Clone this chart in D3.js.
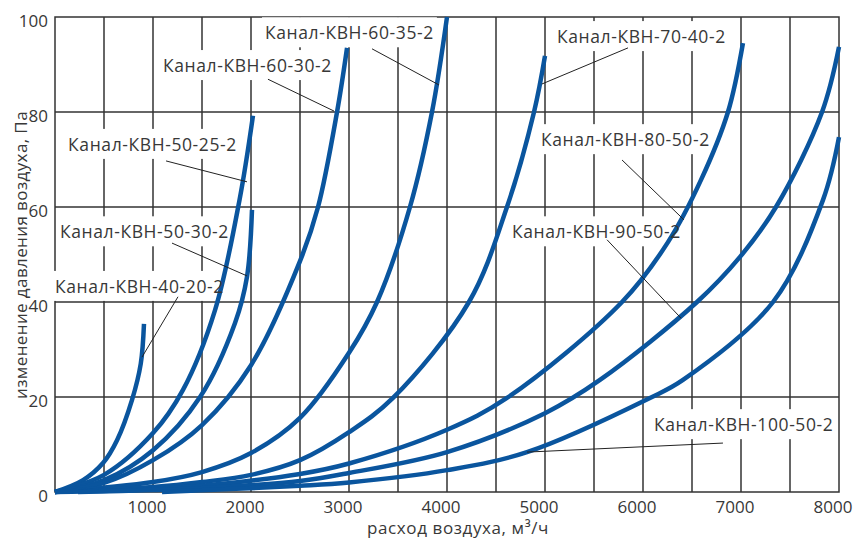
<!DOCTYPE html>
<html><head><meta charset="utf-8">
<script src="https://cdn.jsdelivr.net/npm/d3@7"></script>
<style>
body{margin:0;background:#fff}
text{font-family:"Open Sans",sans-serif;fill:#383838}
</style>
</head><body>
<svg id="chart" width="854" height="542"></svg>
<script>
// ---- data (flow, m3/h ; pressure drop, Pa) ----
const seriesNames = ["Канал-КВН-40-20-2","Канал-КВН-50-25-2","Канал-КВН-50-30-2","Канал-КВН-60-30-2","Канал-КВН-60-35-2","Канал-КВН-70-40-2","Канал-КВН-80-50-2","Канал-КВН-90-50-2","Канал-КВН-100-50-2"];
const flow_40_20 = [0,286,490,633,786,875,908];
const dp_40_20   = [0,2.5,6.1,10.9,19.4,27.0,35.4];
const flow_50_25 = [0,500,1000,1306,1633,1883,2020];
const dp_50_25   = [0,3.6,12.4,21.5,38.3,61.5,79.2];
const flow_50_30 = [0,500,1000,1480,1837,1959,2010];
const dp_50_30   = [0,2.5,8.8,20,35.6,45.3,59.4];
const flow_60_30 = [0,500,1000,1500,2000,2500,2684,2878,2980];
const dp_60_30   = [0,1.9,6.7,14.1,26.7,48.6,60,80,93.5];
const flow_60_35 = [0,1000,1500,2000,2500,3000,3286,3622,3847,4000];
const dp_60_35   = [0,2.1,4.2,8.2,15.6,29.3,40,60,80,100];
const flow_70_40 = [0,1000,1500,2000,2500,3000,3449,4224,4612,4888,5000];
const dp_70_40   = [0,1.05,2.1,3.6,6.7,12.6,19.8,40,60,80,91.8];
const flow_80_50 = [0,1000,1500,2500,3000,4000,4612,5786,6255,6592,6867,7020];
const dp_80_50   = [0,0.6,1.3,3.8,6.0,13.1,19.8,40,52.6,65.7,80,94.5];
const flow_90_50 = [235,1000,1500,2500,3000,4000,5000,5561,6551,6990,7357,7827,8000];
const dp_90_50   = [0,0.4,0.8,2.3,4.0,8.4,16.6,23.6,40,49.5,60,80,93.7];
const flow_100_50 = [1092,2500,3000,4000,4816,6071,6408,7327,7837,8000];
const dp_100_50   = [0,1.3,2.0,4.6,8.4,19.8,23.6,40,61.5,74.7];

const seriesFlows = [flow_40_20,flow_50_25,flow_50_30,flow_60_30,flow_60_35,flow_70_40,flow_80_50,flow_90_50,flow_100_50];
const seriesDps   = [dp_40_20,dp_50_25,dp_50_30,dp_60_30,dp_60_35,dp_70_40,dp_80_50,dp_90_50,dp_100_50];

const xTickLabels = [1000,2000,3000,4000,5000,6000,7000,8000];
const yTickLabels = [0,20,40,60,80,100];
const xTitle = "расход воздуха, м³/ч";
const yTitle = "изменение давления воздуха, Па";

// label annotations in data units: [textFlow, textDp, leaderFromFlow, leaderFromDp, leaderToFlow, leaderToDp]
const labelAnchors = [
  [0,43.2, 1255,41.1, 888,28.4],
  [133,73.1, 1133,69.7, 1959,65.3],
  [51,54.7, 1194,52.4, 1959,45.5],
  [1102,89.7, 2173,86.9, 2847,80.2],
  [2143,96.6, 3235,93.3, 3918,85.7],
  [5122,95.8, 5847,93.5, 4969,85.9],
  [4959,74.1, 5786,69.9, 6418,57.3],
  [4663,54.7, 5633,53.1, 6388,36.6],
  [6112,14.1, 6816,10.3, 4816,8.4]
];

// ---- drawing ----
const svg = d3.select("#chart");
const x = d3.scaleLinear().domain([0,8000]).range([55,839]);
const y = d3.scaleLinear().domain([0,100]).range([492,17]);
const gridColor = "#333";

const grid = svg.append("g");
grid.selectAll("line.v").data(d3.range(500,8000,500)).join("line")
  .attr("x1",d=>x(d)).attr("x2",d=>x(d)).attr("y1",y(0)).attr("y2",y(100))
  .attr("stroke",gridColor).attr("stroke-width",1.5);
grid.selectAll("line.h").data([20,40,60,80]).join("line")
  .attr("x1",x(0)).attr("x2",x(8000)).attr("y1",d=>y(d)).attr("y2",d=>y(d))
  .attr("stroke",gridColor).attr("stroke-width",1.5);
grid.append("rect").attr("x",x(0)).attr("y",y(100)).attr("width",x(8000)-x(0)).attr("height",y(0)-y(100))
  .attr("fill","none").attr("stroke",gridColor).attr("stroke-width",1.5);

const bgLayer = svg.append("g");
const curveLayer = svg.append("g");
const leaderLayer = svg.append("g");
const textLayer = svg.append("g");

const line = d3.line().x(d=>x(d[0])).y(d=>y(d[1])).curve(d3.curveCatmullRom.alpha(0.5));
seriesFlows.forEach((fl,i)=>{
  const pts = fl.map((f,j)=>[f,seriesDps[i][j]]);
  curveLayer.append("path").attr("d",line(pts)).attr("fill","none")
    .attr("stroke","#0a559e").attr("stroke-width",4.5).attr("stroke-linecap","butt");
});

seriesNames.forEach((name,i)=>{
  const a = labelAnchors[i];
  const t = textLayer.append("text").attr("x",x(a[0])).attr("y",y(a[1]))
    .attr("dy","0.35em").attr("font-size",17.5).attr("letter-spacing","0.6px").text(name);
  const bb = t.node().getBBox();
  bgLayer.append("rect").attr("x",bb.x-3).attr("y",bb.y-3).attr("width",bb.width+6).attr("height",bb.height+6)
    .attr("fill","#fff");
  leaderLayer.append("line").attr("x1",x(a[2])).attr("y1",y(a[3])).attr("x2",x(a[4])).attr("y2",y(a[5]))
    .attr("stroke","#222").attr("stroke-width",1);
});

// tick labels
svg.append("g").selectAll("text").data(xTickLabels).join("text")
  .attr("x",d=>x(d)-6).attr("y",y(0)+21).attr("text-anchor","middle").attr("font-size",17).text(d=>d);
svg.append("g").selectAll("text").data(yTickLabels).join("text")
  .attr("x",48).attr("y",d=>y(d)+10).attr("text-anchor","end").attr("font-size",17).text(d=>d);

svg.append("text").attr("x",458).attr("y",534).attr("text-anchor","middle").attr("font-size",17)
  .attr("letter-spacing","0.6px").text(xTitle);
svg.append("text").attr("transform","translate(27,255) rotate(-90)").attr("text-anchor","middle")
  .attr("font-size",17).attr("letter-spacing","0.4px").text(yTitle);
</script>
</body></html>
